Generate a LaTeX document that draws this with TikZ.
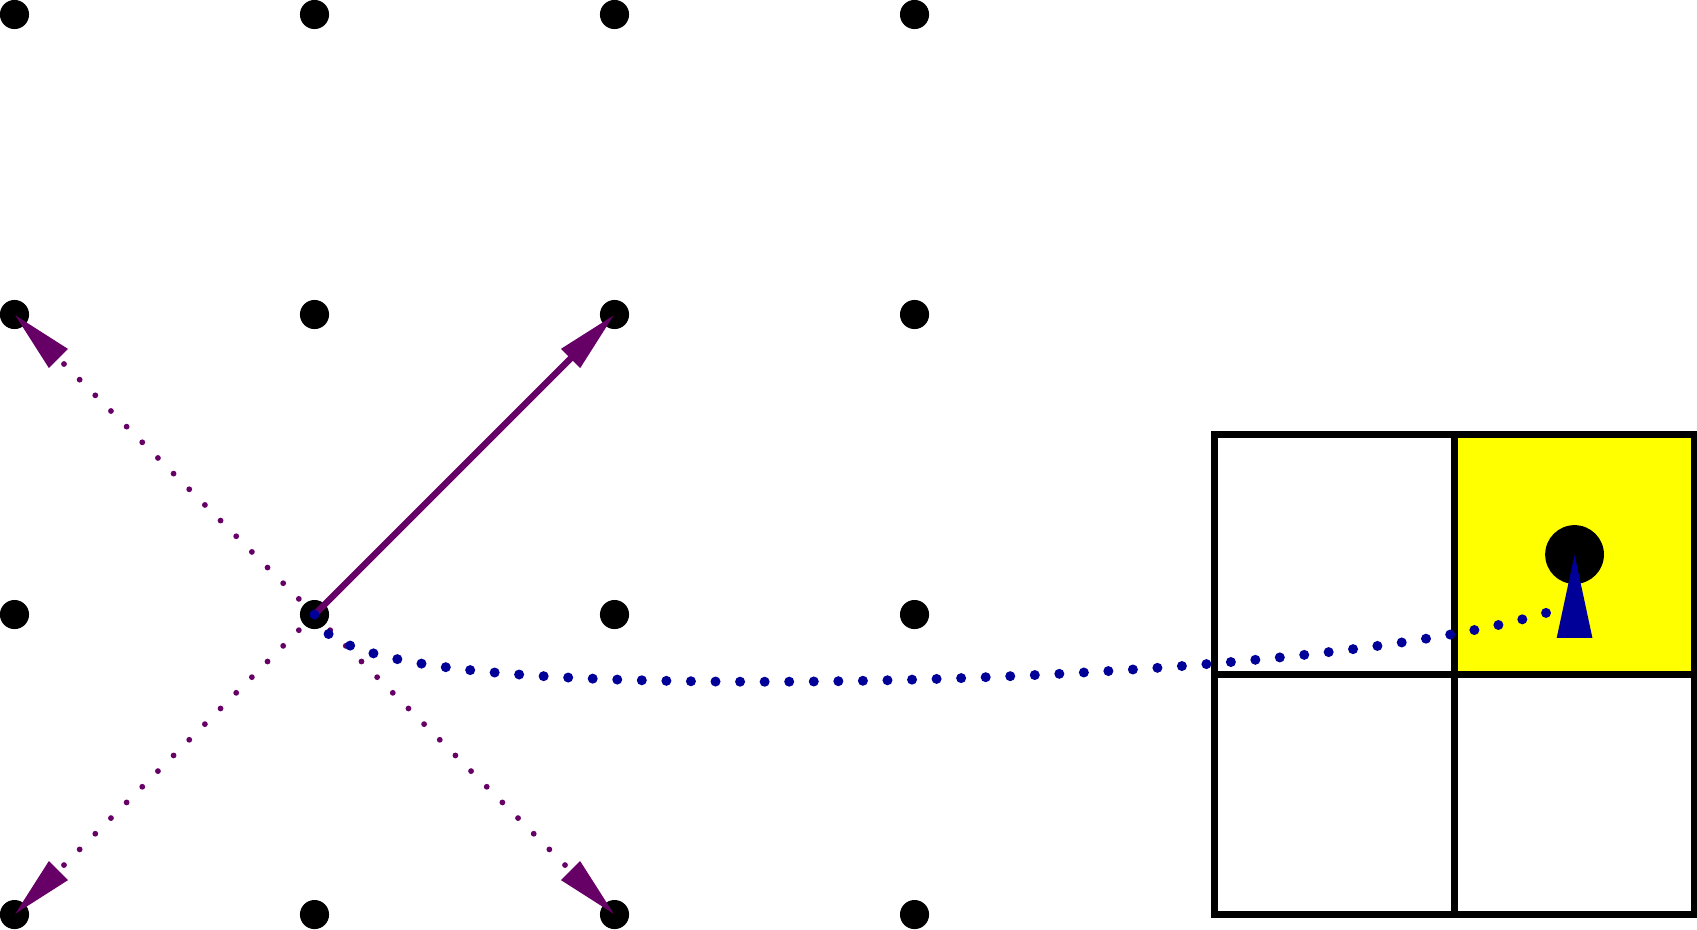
\documentclass[tikz,border=0pt]{standalone}
\usetikzlibrary{arrows.meta}
\definecolor{plum}{RGB}{102,0,102}
\definecolor{navyblue}{RGB}{0,0,153}
\definecolor{pureyellow}{RGB}{255,255,0}
\begin{document}
\begin{tikzpicture}[
  gdot/.style={circle, fill=black, inner sep=0pt, minimum size=0.097cm},
  bigdot/.style={circle, fill=black, inner sep=0pt, minimum size=0.196cm},
  cellline/.style={draw=black, line width=0.62pt},
  purtip/.style={-{Triangle[length=5.9pt, width=2.4pt]}},
  pursolid/.style={plum, line width=0.6pt, purtip},
  purdotted/.style={plum, line width=0.55pt, line cap=round, dash pattern=on 0pt off 2.1pt, purtip},
  bluedotted/.style={navyblue, line width=0.95pt, line cap=round, dash pattern=on 0pt off 2.33pt},
  bluetip/.style={navyblue, line width=0.3pt, -{Triangle[length=7.9pt, width=3.3pt]}}
]
\useasboundingbox (-0.0483,-0.0483) rectangle (5.6083,3.0483);
\foreach \i in {0,...,3}{
  \foreach \j in {0,...,3}{
    \node[gdot] (d\i\j) at (\i,\j) {};
  }
}
\fill[pureyellow] (4.8,0.8) rectangle (5.6,1.6);
\draw[cellline] (4,0) rectangle (5.6,1.6);
\draw[cellline] (4.8,0) -- (4.8,1.6);
\draw[cellline] (4,0.8) -- (5.6,0.8);
\node[bigdot] (goal) at (5.2,1.2) {};
\draw[pursolid] (d11.center) -- (d22.center);
\draw[purdotted] (d11.center) -- (d02.center);
\draw[purdotted] (d11.center) -- (d00.center);
\draw[purdotted] (d11.center) -- (d20.center);
\coordinate (bend) at (5.152,1.02);
\coordinate (tail) at (5.2,0.94);
\draw[bluedotted] (d11.center) .. controls (1.03,0.85) and (1.5,0.776) .. (2.5,0.776) .. controls (3.3,0.776) and (4.6,0.84) .. (bend);
\draw[bluetip] (tail) -- (goal.center);
\end{tikzpicture}
\end{document}
